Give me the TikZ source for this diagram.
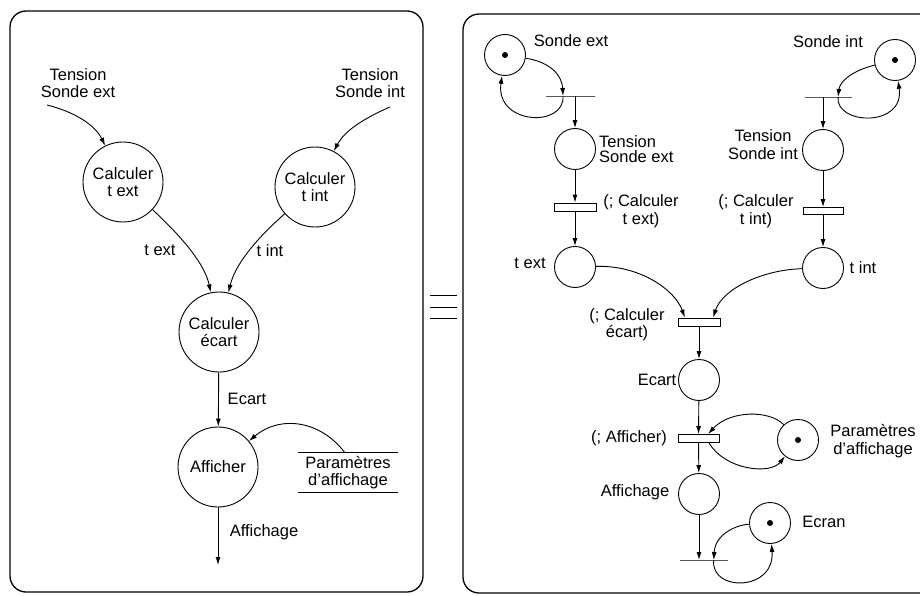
\documentclass[tikz,border=0pt]{standalone}
\usepackage{fontspec}
\setmainfont{Liberation Sans}
\usetikzlibrary{arrows.meta,calc}
\begin{document}
\begin{tikzpicture}[x=1pt,y=-1pt,
  every node/.style={font=\fontsize{16.5}{17.5}\selectfont},
  lab/.style={align=center, inner sep=0pt},
  bigproc/.style={circle,draw,line width=0.9pt,minimum size=80pt,inner sep=0pt,align=center},
  place/.style={circle,draw,line width=0.9pt,minimum size=41pt,inner sep=0pt},
  trans/.style={rectangle,draw,line width=0.9pt,minimum width=42pt,minimum height=8pt,inner sep=0pt},
  bar/.style={rectangle,draw,line width=0.8pt,minimum height=0pt,inner sep=0pt},
  arr/.style={-{Latex[length=8pt,width=5pt]},line width=0.9pt},
  panel/.style={draw,rounded corners=16pt,line width=1.3pt}
]
\useasboundingbox (0,0) rectangle (920,596);
% panels
\draw[panel] (10,11) rectangle (423,592);
\draw[panel] (463,14) rectangle (960,593);
% equivalence sign
\draw[line width=0.9pt] (430,295) -- (457,295) (430,307) -- (457,307) (430,318) -- (457,318);

% ---------------- left panel ----------------
\node[lab] (tse) at (78,83) {Tension\\Sonde ext};
\node[lab] (tsi) at (370,83) {Tension\\Sonde int};
\coordinate (s1) at (47,105);
\coordinate (s2) at (390,107);
\node[bigproc] (cte) at (123,182) {Calculer\\t ext};
\node[bigproc] (cti) at (315,187) {Calculer\\t int};
\node[bigproc] (ce) at (219,332) {Calculer\\écart};
\node[bigproc] (aff) at (218,467) {Afficher};
\node[lab, minimum width=100pt, minimum height=39pt] (store) at (348,472.5) {Paramètres\\d'affichage};
\draw[line width=0.9pt] (store.north west) -- (store.north east) (store.south west) -- (store.south east);
\coordinate (affend) at (218,565);
\node[lab] (lte) at (160,250) {t ext};
\node[lab] (lti) at (270,251) {t int};
\node[lab] (lec) at (247,399) {Ecart};
\node[lab] (laf) at (264,532) {Affichage};

\draw[arr] (s1) .. controls (75,112) and (95,125) .. (cte);
\draw[arr] (s2) .. controls (365,118) and (345,130) .. (cti);
\draw[arr] (cte) .. controls (185,240) and (205,265) .. (ce);
\draw[arr] (cti) .. controls (255,240) and (235,265) .. (ce);
\draw[arr] (ce) -- (aff);
\draw[arr] (aff) -- (affend);
\draw[arr] ([xshift=-3pt]store.north) .. controls (320,420) and (280,415) .. (aff);

% ---------------- right panel ----------------
\node[place] (se) at (505,55) {};
\node[lab] (lse) at (571,41) {Sonde ext};
\node[bar, minimum width=49pt] (b1) at (570.5,96) {};
\node[place] (pte) at (575,149) {};
\node[lab, align=left, font=\fontsize{16.5}{15.5}\selectfont, anchor=west] (lpte) at (599,149) {Tension\\Sonde ext};
\node[trans] (t1) at (575,207) {};
\node[lab] (lt1) at (641,211) {(; Calculer\\t ext)};
\node[place] (ptx) at (575,267) {};
\node[lab] (lptx) at (530,263) {t ext};

\node[place] (si) at (895,60) {};
\node[lab] (lsi) at (828,42) {Sonde int};
\node[bar, minimum width=47pt] (b2) at (828.5,97) {};
\node[place] (pti) at (823,150) {};
\node[lab] (lpti) at (763,144.5) {Tension\\Sonde int};
\node[trans, minimum width=40pt, minimum height=7pt] (t2) at (823,211) {};
\node[lab] (lt2) at (756,211) {(; Calculer\\t int)};
\node[place] (pit) at (823,268) {};
\node[lab] (lpit) at (863,268) {t int};

\node[trans] (t3) at (699,322) {};
\node[lab] (lt3) at (627,324.5) {(; Calculer\\écart)};
\node[place] (pe) at (699,380) {};
\node[lab] (lpe) at (657,380) {Ecart};
\node[trans, minimum width=41pt] (t4) at (698.5,438.5) {};
\node[lab] (lt4) at (629,438) {(; Afficher)};
\node[place] (pp) at (798,440) {};
\node[lab] (lpp) at (873,441) {Paramètres\\d'affichage};
\node[place] (pa) at (699,494) {};
\node[lab] (lpa) at (635,492) {Affichage};
\node[bar, minimum width=48pt] (b5) at (704,560) {};
\node[place] (pec) at (770,523) {};
\node[lab] (lpec) at (824,522) {Ecran};

% tokens
\fill (se.center) circle (3pt);
\fill (si.center) circle (3pt);
\fill (pp.center) circle (3pt);
\fill (pec.center) circle (3pt);

% connectors
\draw[arr] (se) .. controls (550,62) and (562,75) .. ($(b1.west)!0.35!(b1.east)$);
\draw[arr] ($(b1.west)!0.35!(b1.east)$) .. controls (565,128) and (495,125) .. (se);
\draw[arr] (b1.center -| pte.north) -- (pte);
\draw[arr] (pte) -- (t1);
\draw[arr] (t1) -- (ptx);

\draw[arr] (si) .. controls (855,70) and (840,80) .. ($(b2.west)!0.7!(b2.east)$);
\draw[arr] ($(b2.west)!0.7!(b2.east)$) .. controls (835,125) and (905,128) .. (si);
\draw[arr] (b2.center -| pti.north) -- (pti);
\draw[arr] (pti) -- (t2);
\draw[arr] (t2) -- (pit);

\draw[arr] (ptx) .. controls (640,265) and (675,290) .. ($(t3.north west)!0.17!(t3.north east)$);
\draw[arr] (pit) .. controls (760,270) and (722,290) .. ($(t3.north west)!0.83!(t3.north east)$);
\draw[arr] (t3) -- (pe);
\draw[arr] (pe) -- (t4);
\draw[arr] (t4) -- (pa);
\draw[arr] (pp) .. controls (770,410) and (730,410) .. ($(t4.north west)!0.73!(t4.north east)$);
\draw[arr] ($(t4.south west)!0.75!(t4.south east)$) .. controls (725,470) and (770,475) .. (pp);
\draw[arr] (pa) -- (pa |- b5.center);
\draw[arr] (pec) .. controls (735,525) and (715,535) .. ($(b5.west)!0.7!(b5.east)$);
\draw[arr] ($(b5.west)!0.7!(b5.east)$) .. controls (710,592) and (775,592) .. (pec);
\end{tikzpicture}
\end{document}
